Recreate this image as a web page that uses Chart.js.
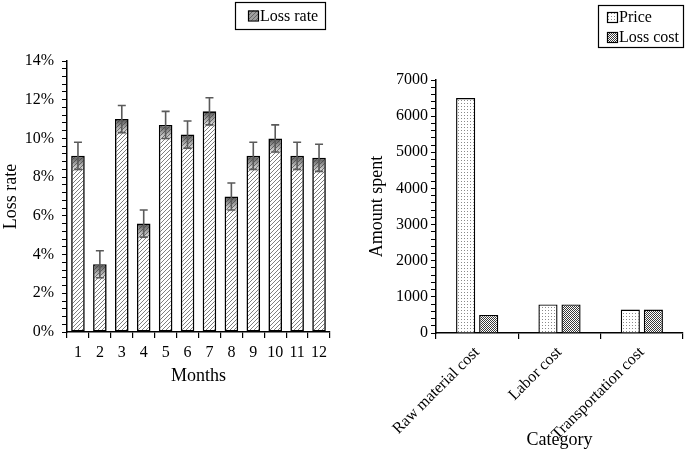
<!DOCTYPE html>
<html>
<head>
<meta charset="utf-8">
<script src="https://cdn.jsdelivr.net/npm/chart.js@4/dist/chart.umd.min.js"></script>
<style>
html, body { margin: 0; padding: 0; background: #fff; }
#wrap { position: relative; width: 685px; height: 452px; }
#lossChart { position: absolute; left: 0; top: 0; }
#costChart { position: absolute; left: 340px; top: 0; }
</style>
</head>
<body>
<div id="wrap">
<canvas id="lossChart" width="340" height="452"></canvas>
<canvas id="costChart" width="345" height="452"></canvas>
</div>
<script>
// left panel: monthly loss rate (%)
var months = ['1', '2', '3', '4', '5', '6', '7', '8', '9', '10', '11', '12'];
var lossRate = [9.1, 3.5, 11.0, 5.6, 10.7, 10.2, 11.4, 7.0, 9.1, 10.0, 9.1, 9.0];
var lossRateError = [0.7, 0.7, 0.7, 0.7, 0.7, 0.7, 0.7, 0.7, 0.7, 0.7, 0.7, 0.7];

// right panel: amount spent per category
var categories = ['Raw material cost', 'Labor cost', 'Transportation cost'];
var price = [6500, 790, 650];
var lossCost = [500, 790, 650];

Chart.defaults.font.family = "'Liberation Serif', 'Times New Roman', serif";
Chart.defaults.color = '#000';

function makePattern(size, draw) {
	var c = document.createElement('canvas');
	c.width = size;
	c.height = size;
	var g = c.getContext('2d');
	g.fillStyle = '#fff';
	g.fillRect(0, 0, size, size);
	draw(g);
	return g.createPattern(c, 'repeat');
}

var hatch = makePattern(4, function(g) {
	g.strokeStyle = '#707070';
	g.lineWidth = 0.9;
	g.beginPath();
	g.moveTo(0, 4); g.lineTo(4, 0);
	g.moveTo(-1, 1); g.lineTo(1, -1);
	g.moveTo(3, 5); g.lineTo(5, 3);
	g.stroke();
});
var sparseDots = makePattern(3, function(g) {
	g.fillStyle = '#8a8a8a';
	g.fillRect(1, 1, 1, 1);
});
var denseDots = makePattern(2, function(g) {
	g.fillStyle = '#3a3a3a';
	g.fillRect(0, 0, 1, 1);
	g.fillRect(1, 1, 1, 1);
});

function isMajor(v, step) {
	var r = v / step;
	return Math.abs(r - Math.round(r)) < 1e-6;
}

// boxed legend, drawn like the original figure
var boxLegend = {
	id: 'boxLegend',
	afterDraw: function(chart, args, opts) {
		var ctx = chart.ctx;
		ctx.save();
		ctx.strokeStyle = '#000';
		ctx.lineWidth = 1.2;
		ctx.strokeRect(opts.x + 0.5, opts.y + 0.5, opts.width, opts.height);
		ctx.font = "16px 'Liberation Serif', 'Times New Roman', serif";
		ctx.textBaseline = 'middle';
		chart.data.datasets.forEach(function(ds, i) {
			var cy = opts.y + opts.pad + opts.rowHeight * (i + 0.5);
			var bx = opts.x + opts.markerLeft;
			ctx.fillStyle = ds.backgroundColor;
			ctx.fillRect(bx, cy - 5, 10, 10);
			if (ds.shade) {
				ctx.fillStyle = 'rgba(80,80,80,0.55)';
				ctx.fillRect(bx, cy - 5, 10, 10);
			}
			ctx.lineWidth = 1.2;
			ctx.strokeStyle = '#000';
			ctx.strokeRect(bx + 0.5, cy - 4.5, 10, 10);
			ctx.fillStyle = '#000';
			ctx.fillText(ds.label, bx + 12, cy + 1);
		});
		ctx.restore();
	}
};

// dark shading at the top of each bar + error bars
var errorBars = {
	id: 'errorBars',
	afterDatasetsDraw: function(chart) {
		var meta = chart.getDatasetMeta(0);
		var y = chart.scales.y;
		var ctx = chart.ctx;
		var ds = chart.data.datasets[0];
		ctx.save();
		meta.data.forEach(function(bar, i) {
			var half = bar.width / 2;
			var h = Math.min(16, bar.base - bar.y - 3);
			var grad = ctx.createLinearGradient(0, bar.y, 0, bar.y + 16);
			grad.addColorStop(0, 'rgba(60,60,60,0.9)');
			grad.addColorStop(1, 'rgba(60,60,60,0)');
			ctx.fillStyle = grad;
			ctx.fillRect(bar.x - half + 1.5, bar.y + 1.5, bar.width - 3, h);
		});
		ctx.strokeStyle = '#5a5a5a';
		ctx.lineWidth = 1.6;
		meta.data.forEach(function(bar, i) {
			var v = ds.data[i], e = lossRateError[i];
			var top = y.getPixelForValue(v + e);
			var bottom = y.getPixelForValue(v - e);
			ctx.beginPath();
			ctx.moveTo(bar.x, top); ctx.lineTo(bar.x, bottom);
			ctx.moveTo(bar.x - 4, top); ctx.lineTo(bar.x + 4, top);
			ctx.moveTo(bar.x - 4, bottom); ctx.lineTo(bar.x + 4, bottom);
			ctx.stroke();
		});
		ctx.restore();
	}
};

new Chart(document.getElementById('lossChart'), {
	type: 'bar',
	data: {
		labels: months,
		datasets: [{
			label: 'Loss rate',
			data: lossRate,
			backgroundColor: hatch,
			borderColor: '#000',
			borderWidth: 1.6,
			borderSkipped: false,
			categoryPercentage: 1,
			barPercentage: 0.62,
			shade: true
		}]
	},
	options: {
		responsive: false,
		animation: false,
		layout: { padding: { top: 61, right: 10, bottom: 65, left: 0 } },
		plugins: {
			legend: { display: false },
			tooltip: { enabled: false },
			boxLegend: { x: 235, y: 2, width: 90, height: 27, pad: 3, rowHeight: 21, markerLeft: 13 }
		},
		scales: {
			x: {
				grid: { drawOnChartArea: false, tickLength: 6, color: '#000', lineWidth: 1.2, offset: true },
				border: { color: '#000', width: 1.5 },
				ticks: { font: { size: 16 }, color: '#000', padding: 5, maxRotation: 0 },
				title: { display: true, text: 'Months', font: { size: 18 }, color: '#000', padding: 0 },
				afterFit: function(s) { s.height = 55; }
			},
			y: {
				min: 0,
				max: 14,
				grid: { drawOnChartArea: false, tickLength: 5, color: '#000', lineWidth: 1 },
				border: { color: '#000', width: 1.5 },
				ticks: {
					stepSize: 0.4,
					autoSkip: false,
					padding: 8,
					font: { size: 16 },
					color: '#000',
					callback: function(v) { return isMajor(v, 2) ? Math.round(v) + '%' : ''; }
				},
				title: { display: true, text: 'Loss rate', font: { size: 18 }, color: '#000', padding: 0 },
				afterFit: function(s) { s.width = 67; }
			}
		}
	},
	plugins: [errorBars, boxLegend]
});

new Chart(document.getElementById('costChart'), {
	type: 'bar',
	data: {
		labels: categories,
		datasets: [{
			label: 'Price',
			data: price,
			backgroundColor: sparseDots,
			borderColor: '#000',
			borderWidth: 1.4,
			categoryPercentage: 0.56,
			barPercentage: 0.83
		}, {
			label: 'Loss cost',
			data: lossCost,
			backgroundColor: denseDots,
			borderColor: '#000',
			borderWidth: 1.4,
			categoryPercentage: 0.56,
			barPercentage: 0.83
		}]
	},
	options: {
		responsive: false,
		animation: false,
		layout: { padding: { top: 80, right: 2, bottom: 1, left: 26 } },
		plugins: {
			legend: { display: false },
			tooltip: { enabled: false },
			boxLegend: { x: 258, y: 5, width: 85, height: 42, pad: 2, rowHeight: 20, markerLeft: 9 }
		},
		scales: {
			x: {
				grid: { drawOnChartArea: false, tickLength: 6, color: '#000', lineWidth: 1.2, offset: true },
				border: { color: '#000', width: 1.5 },
				ticks: { font: { size: 16 }, color: '#000', padding: 4, minRotation: 45, maxRotation: 45 },
				title: { display: true, text: 'Category', font: { size: 18 }, color: '#000', padding: 0 },
				afterFit: function(s) { s.height = 118; }
			},
			y: {
				min: 0,
				max: 7000,
				grid: { drawOnChartArea: false, tickLength: 5, color: '#000', lineWidth: 1 },
				border: { color: '#000', width: 1.5 },
				ticks: {
					stepSize: 200,
					autoSkip: false,
					padding: 3,
					font: { size: 16 },
					color: '#000',
					callback: function(v) { return isMajor(v, 1000) ? String(v) : ''; }
				},
				title: { display: true, text: 'Amount spent', font: { size: 18 }, color: '#000', padding: 0 },
				afterFit: function(s) { s.width = 70; }
			}
		}
	},
	plugins: [boxLegend]
});
</script>
</body>
</html>
